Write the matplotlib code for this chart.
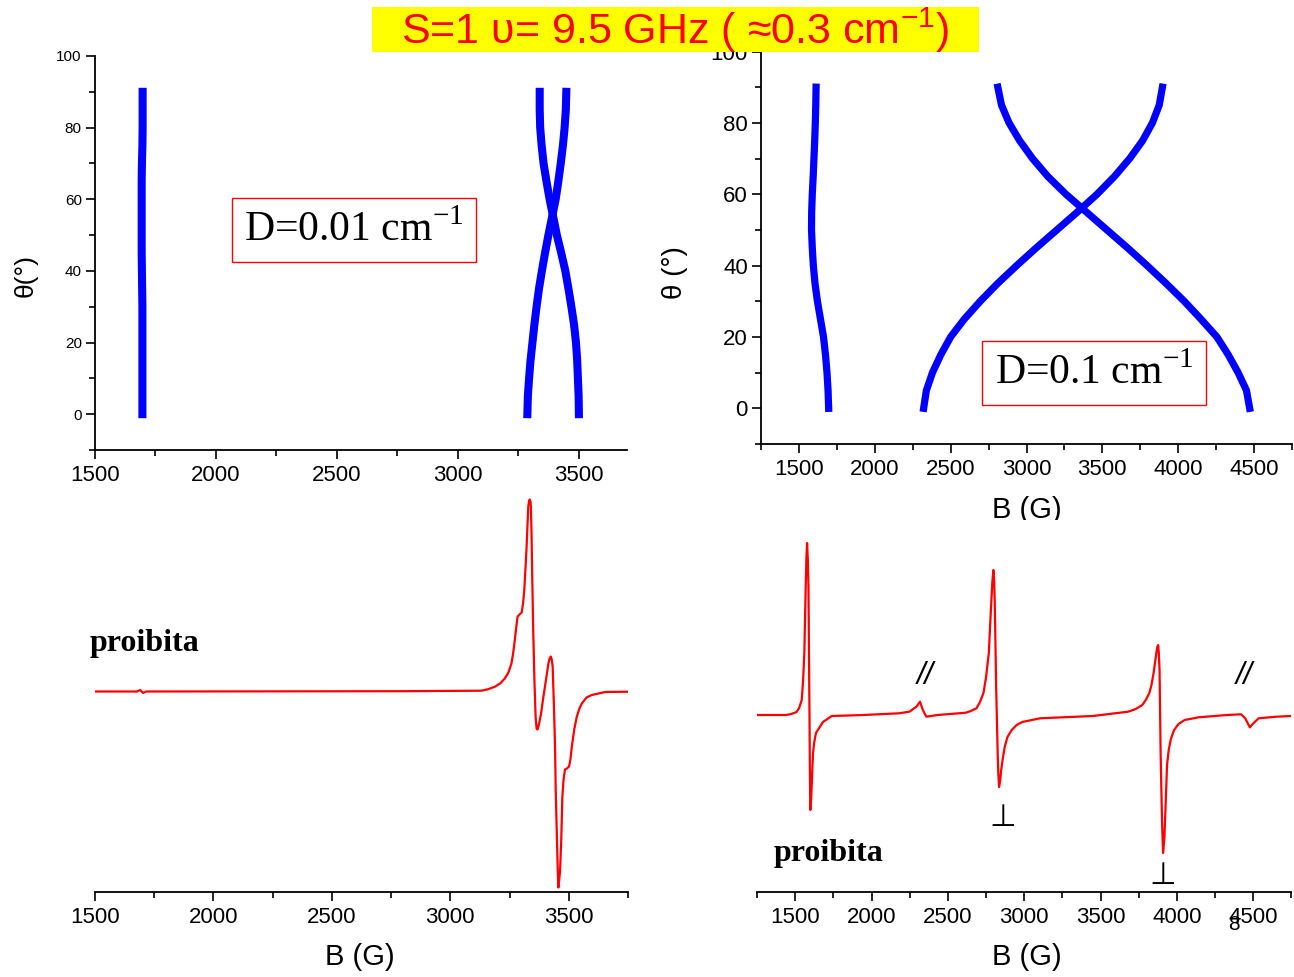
import matplotlib
matplotlib.use('Agg')
import matplotlib.pyplot as plt
from matplotlib.ticker import MultipleLocator
from matplotlib.patches import Rectangle

plt.rcParams['font.family'] = ['Liberation Sans', 'DejaVu Sans']
plt.rcParams['mathtext.fontset'] = 'custom'
plt.rcParams['mathtext.rm'] = 'Liberation Serif'
plt.rcParams['mathtext.sf'] = 'Liberation Sans'

# angulos (grados) cada 5
theta = [0, 5, 10, 15, 20, 25, 30, 35, 40, 45, 50, 55, 60, 65, 70, 75, 80, 85, 90]

# ---- datos: dependencia angular, D = 0.01 cm-1
b_half_a = [1696, 1696, 1696, 1696, 1696, 1696, 1696, 1695, 1694, 1693,
            1693, 1693, 1693, 1693, 1694, 1696, 1697, 1697, 1697]
b_up_a = [3288, 3290, 3295, 3301, 3309, 3317, 3326, 3336, 3348, 3361,
          3375, 3390, 3405, 3416, 3426, 3435, 3442, 3447, 3449]
b_dn_a = [3501, 3500, 3497, 3494, 3489, 3481, 3470, 3458, 3445, 3428,
          3410, 3395, 3380, 3367, 3355, 3347, 3341, 3339, 3339]

# ---- datos: dependencia angular, D = 0.1 cm-1
b_half_b = [1696, 1692, 1685, 1675, 1662, 1642, 1622, 1606, 1595, 1588,
            1583, 1584, 1588, 1594, 1599, 1604, 1608, 1611, 1613]
b_up_b = [2322, 2340, 2380, 2435, 2500, 2590, 2695, 2810, 2935, 3065,
          3200, 3335, 3465, 3580, 3680, 3765, 3830, 3875, 3896]
b_dn_b = [4471, 4450, 4395, 4330, 4255, 4150, 4040, 3920, 3795, 3665,
          3530, 3395, 3260, 3140, 3040, 2955, 2885, 2835, 2811]

# ---- espectros (derivada), D = 0.01
b_spec_a = [1500, 1678, 1691, 1703, 1716, 2800, 3131, 3160, 3188, 3210,
            3230, 3245, 3258, 3265, 3272, 3278, 3284, 3292, 3301, 3307,
            3312, 3317, 3322, 3326, 3329, 3332, 3335, 3338, 3340, 3343,
            3346, 3350, 3355, 3360, 3364, 3368, 3374, 3383, 3393, 3404,
            3414, 3419, 3424, 3428, 3432, 3437, 3442, 3445, 3449, 3453,
            3456, 3459, 3463, 3468, 3473, 3478, 3484, 3492, 3501, 3507,
            3513, 3523, 3534, 3545, 3555, 3575, 3597, 3654, 3750]
i_spec_a = [0, 0, 1.5, -1.5, 0, 0.3, 0.8, 2.3, 4.8, 8,
            13, 19, 28, 38, 51, 64, 75, 77, 79, 88,
            101, 122, 145, 168, 185, 190, 192, 190, 185, 155,
            111, 60, 11, -25, -37, -38, -33, -22, -5, 12,
            28, 33, 35, 32, 25, -12, -55, -100, -138, -175,
            -196, -190, -180, -150, -105, -88, -78, -77, -75, -68,
            -55, -38, -25, -17, -12, -6, -3.5, -0.5, -0.2]

# ---- espectros (derivada), D = 0.1
b_spec_b = [1250, 1439, 1475, 1509, 1526, 1543, 1552, 1560, 1565, 1569,
            1573, 1578, 1583, 1587, 1590, 1594, 1596, 1599, 1603, 1608,
            1612, 1617, 1625, 1636, 1682, 1740, 1948, 2179, 2248, 2294,
            2317, 2336, 2359, 2433, 2618, 2650, 2687, 2710, 2733, 2750,
            2768, 2776, 2784, 2791, 2798, 2803, 2807, 2811, 2816, 2821,
            2826, 2830, 2835, 2842, 2849, 2860, 2872, 2890, 2918, 2950,
            2987, 3103, 3449, 3680, 3730, 3773, 3796, 3819, 3833, 3847,
            3856, 3865, 3871, 3877, 3881, 3886, 3893, 3902, 3909, 3918,
            3930, 3935, 3946, 3960, 3981, 4010, 4050, 4142, 4327, 4420,
            4447, 4477, 4500, 4535, 4651, 4750]
i_spec_b = [0, 0, 1, 3, 7, 15, 35, 62, 100, 128,
            155, 172, 155, 128, 70, -5, -50, -95, -88, -72,
            -55, -38, -27, -18, -7, -1, 0, 1.7, 3.3, 8.3,
            13.3, 5, -1.7, 0, 2.3, 4, 6.7, 13, 22, 38,
            62, 88, 112, 133, 145, 135, 112, 75, 28, -5,
            -38, -58, -72, -66, -55, -43, -32, -22, -15, -10,
            -7, -3.3, -1, 3.3, 6, 10, 15, 22, 30, 42,
            52, 62, 68, 70, 62, 45, -38, -105, -138, -122,
            -72, -50, -35, -24, -15, -9, -5, -2.3, 0, 0.7,
            -3.3, -12.3, -8.3, -3.3, -1.7, -1]

W, H = 1294, 977


def caja(x0, y0, x1, y1):
    '''rectangulo en pixeles -> coordenadas de figura'''
    return [x0 / W, 1 - y1 / H, (x1 - x0) / W, (y1 - y0) / H]


def estilo(ax, ysize):
    for s in ['top', 'right']:
        ax.spines[s].set_visible(False)
    for s in ['left', 'bottom']:
        ax.spines[s].set_linewidth(1.3)
    ax.xaxis.set_major_locator(MultipleLocator(500))
    ax.xaxis.set_minor_locator(MultipleLocator(250))
    ax.tick_params(which='major', direction='out', length=6.5, width=1.2)
    ax.tick_params(which='minor', direction='out', length=4, width=1.2)
    ax.tick_params(axis='x', labelsize=16, pad=4)
    ax.tick_params(axis='y', labelsize=ysize, pad=3)


fig = plt.figure(figsize=(W / 100, H / 100), dpi=100)

# angular D=0.01
ax1 = fig.add_axes(caja(95, 56, 627, 450))
for b in [b_half_a, b_up_a, b_dn_a]:
    ax1.plot(b, theta, color='#0000ff', lw=5.8, solid_capstyle='projecting')
ax1.set_xlim(1500, 3700)
ax1.set_ylim(-10, 100)
estilo(ax1, 11)
ax1.yaxis.set_major_locator(MultipleLocator(20))
ax1.yaxis.set_minor_locator(MultipleLocator(10))
ax1.set_xlabel('B (G)', fontsize=21)
ax1.xaxis.set_label_coords(0.498, -0.132)
ax1.set_ylabel('θ(°)', fontsize=19)
ax1.yaxis.set_label_coords(-0.107, 0.444)

# angular D=0.1
ax2 = fig.add_axes(caja(761, 51.5, 1292, 444))
for b in [b_half_b, b_up_b, b_dn_b]:
    ax2.plot(b, theta, color='#0000ff', lw=5.2, solid_capstyle='projecting')
ax2.set_xlim(1250, 4750)
ax2.set_ylim(-10, 100)
estilo(ax2, 16)
ax2.yaxis.set_major_locator(MultipleLocator(20))
ax2.yaxis.set_minor_locator(MultipleLocator(10))
ax2.set_xlabel('B (G)', fontsize=21)
ax2.xaxis.set_label_coords(0.501, -0.132)
ax2.set_ylabel('θ (°)', fontsize=20)
ax2.yaxis.set_label_coords(-0.137, 0.438)

# espectro D=0.01
ax3 = fig.add_axes(caja(95, 495, 628, 892))
ax3.plot(b_spec_a, i_spec_a, color='red', lw=1.6)
ax3.set_xlim(1500, 3750)
ax3.set_ylim(-200.5, 196.5)
estilo(ax3, 12)
ax3.spines['left'].set_visible(False)
ax3.set_yticks([])
ax3.set_xlabel('B (G)', fontsize=21)
ax3.xaxis.set_label_coords(0.497, -0.128)

# espectro D=0.1
ax4 = fig.add_axes(caja(757, 520, 1291.5, 892))
ax4.plot(b_spec_b, i_spec_b, color='red', lw=1.6)
ax4.set_xlim(1250, 4750)
ax4.set_ylim(-177, 195)
estilo(ax4, 12)
ax4.spines['left'].set_visible(False)
ax4.set_yticks([])
ax4.set_xlabel('B (G)', fontsize=21)
ax4.xaxis.set_label_coords(0.505, -0.137)

# cajas con D
caja_d = dict(boxstyle='square,pad=0.3', facecolor='white', edgecolor='red', lw=1)
fig.text(354 / W, 1 - 230 / H, r'D=0.01 cm$^{\mathrm{-1}}$', family='Liberation Serif',
         fontsize=30, ha='center', va='center', bbox=caja_d)
fig.text(1094 / W, 1 - 373 / H, r'D=0.1 cm$^{\mathrm{-1}}$', family='Liberation Serif',
         fontsize=30, ha='center', va='center', bbox=caja_d)

# anotaciones
fig.text(144 / W, 1 - 644 / H, 'proibita', family='Liberation Serif', weight='bold',
         fontsize=23, ha='center', va='center')
fig.text(829 / W, 1 - 853 / H, 'proibita', family='Liberation Serif', weight='bold',
         fontsize=23, ha='center', va='center')
fig.text(925 / W, 1 - 676 / H, '//', style='italic', fontsize=22, ha='center', va='center')
fig.text(1244 / W, 1 - 676 / H, '//', style='italic', fontsize=22, ha='center', va='center')
fig.text(1003 / W, 1 - 818 / H, '⊥', family='DejaVu Sans', fontsize=22, ha='center', va='center')
fig.text(1163 / W, 1 - 875 / H, '⊥', family='DejaVu Sans', fontsize=22, ha='center', va='center')
# numero de diapositiva, encima de la etiqueta 4500 como en el original
fig.text(1234 / W, 1 - 925 / H, '8', fontsize=15, ha='center', va='center')

# titulo
fig.patches.append(Rectangle((372 / W, 1 - 52 / H), (979 - 372) / W, 45 / H,
                             transform=fig.transFigure, facecolor='#ffff00',
                             edgecolor='none', zorder=5))
fig.text(675 / W, 1 - 30 / H, r'S=1 υ= 9.5 GHz ( ≈0.3 cm$^{\mathsf{-1}}$)',
         color='red', fontsize=31, ha='center', va='center', zorder=6)

fig.savefig('out.png', dpi=100)
